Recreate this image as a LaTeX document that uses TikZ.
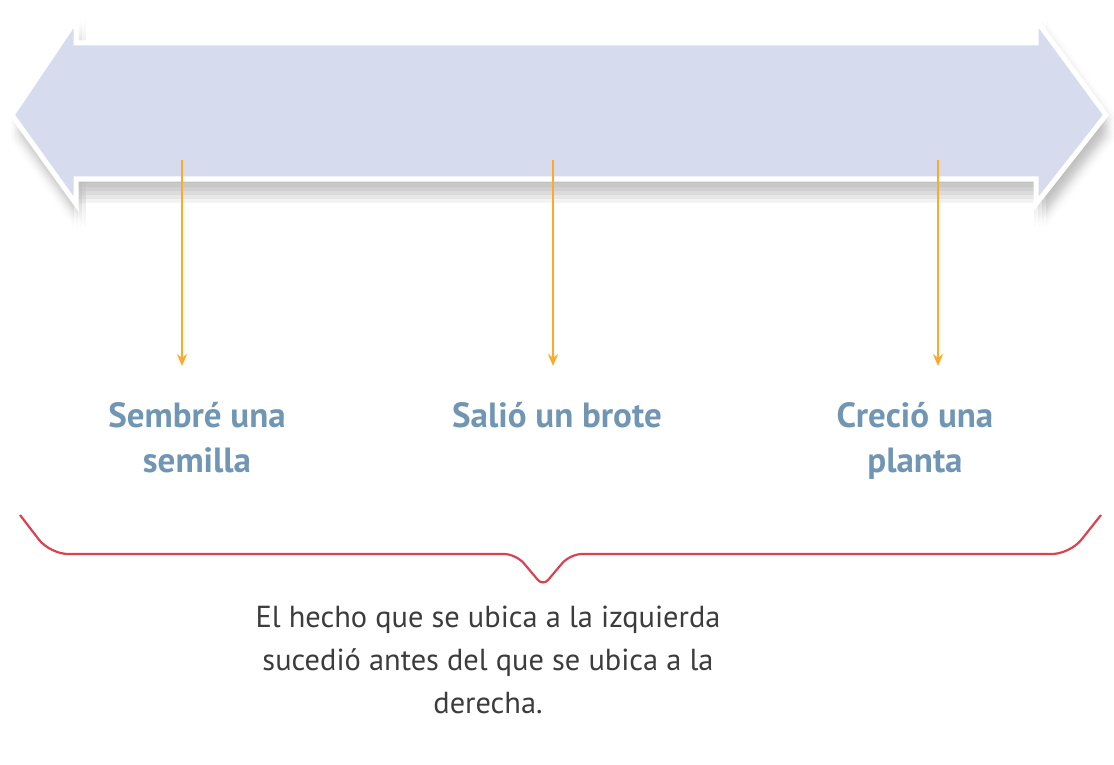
\documentclass[tikz,border=0pt]{standalone}
\usepackage{fontspec}
\setmainfont{PT Sans}
\usetikzlibrary{positioning, arrows.meta}
\definecolor{bandblue}{HTML}{D6DCEE}
\definecolor{tickorange}{HTML}{FBAA2A}
\definecolor{labelblue}{HTML}{7096B4}
\definecolor{bracered}{HTML}{D9434E}
\definecolor{notegray}{HTML}{3C3C3C}
\tikzstyle{band} = [fill=bandblue, draw=white, line width=2.5pt, line join=miter]
\tikzstyle{bandshadow} = [fill=black, opacity=0.012]
\tikzstyle{tick} = [draw=tickorange, line width=1.1pt, -{Stealth[length=6pt, width=5pt]}]
\tikzstyle{event} = [text=labelblue, inner sep=0pt, anchor=north, align=center, font=\bfseries\fontsize{17.5}{22.5}\selectfont]
\tikzstyle{note} = [text=notegray, inner sep=0pt, anchor=north, align=center, font=\fontsize{15.2}{21.5}\selectfont]
\tikzstyle{brace} = [draw=bracered, line width=1.1pt, rounded corners=9pt]
\def\bandpath{(12,115) -- (76,20) -- (76,43) -- (1036,43) -- (1036,20) -- (1106,115) -- (1036,204) -- (1036,179) -- (76,179) -- (76,204) -- cycle}

\begin{document}
\begin{tikzpicture}[x=0.5pt, y=-0.5pt]
\useasboundingbox (0,0) rectangle (1114,765);

% soft shadow under the double arrow
\foreach \dx in {-2,2,6,10}
  \foreach \dy in {0,4,...,24}
    \path[bandshadow, shift={(\dx,\dy)}] \bandpath;
\path[band] \bandpath;

% ticks
\coordinate (sowTop) at (182,160);
\coordinate (sowEnd) at (182,366);
\coordinate (sproutTop) at (553,160);
\coordinate (sproutEnd) at (553,366);
\coordinate (plantTop) at (938,160);
\coordinate (plantEnd) at (938,366);

\draw [tick] (sowTop) -- (sowEnd);
\draw [tick] (sproutTop) -- (sproutEnd);
\draw [tick] (plantTop) -- (plantEnd);

% events
\node (sow) [event] at (197,402) {Sembré una\\semilla};
\node (sprout) [event] at (557,402) {Salió un brote};
\node (plant) [event] at (915,402) {Creció una\\planta};

% brace
\coordinate (braceL) at (20,515);
\coordinate (braceR) at (1101,515);
\coordinate (braceTip) at (543,586);
\draw [brace] (braceL) -- (50,554) [rounded corners=6pt] -- (516,554) [rounded corners=4pt] -- (braceTip) [rounded corners=6pt] -- (570,554) [rounded corners=9pt] -- (1070,554) -- (braceR);

\node (rule) [note] at (488,606) {El hecho que se ubica a la izquierda\\sucedió antes del que se ubica a la\\derecha.};

\end{tikzpicture}
\end{document}
